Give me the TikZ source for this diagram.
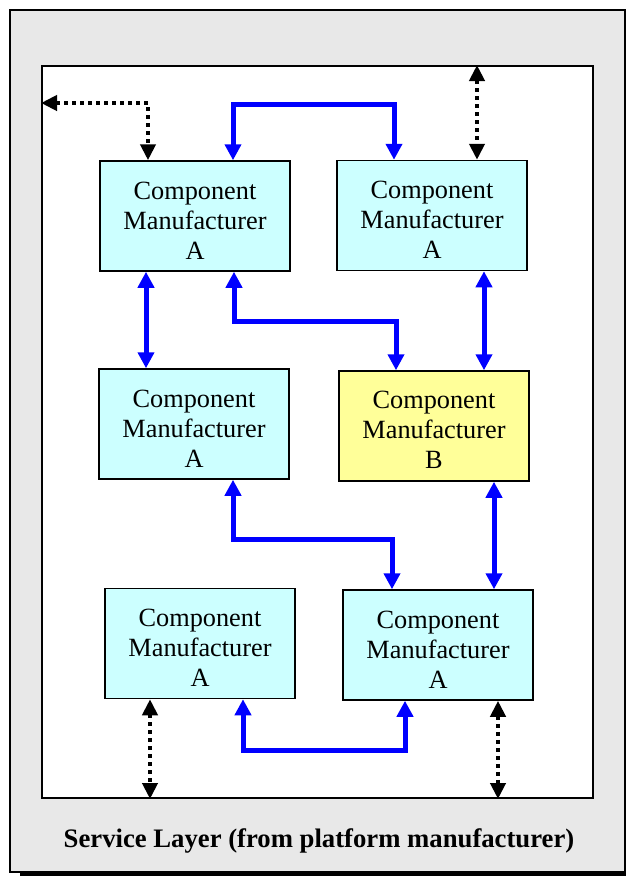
\documentclass[tikz,border=0pt]{standalone}
\usepackage{fontspec}
\setmainfont{Liberation Serif}
\usetikzlibrary{arrows.meta}

\definecolor{panelgrey}{HTML}{E8E8E8}
\definecolor{compcyan}{HTML}{CCFFFF}
\definecolor{compyellow}{HTML}{FFFF99}
\definecolor{linkblue}{HTML}{0000FF}

% extra head room on the first line, so the three lines sit a little low in the box
\newcommand{\firstlinepad}{\rule{0pt}{26pt}}

\tikzset{
  comp/.style={draw=black, line width=1.5pt, minimum width=190pt, minimum height=110pt,
    inner sep=0pt, align=center, font=\fontsize{26.3}{30}\selectfont},
  compA/.style={comp, fill=compcyan},
  compB/.style={comp, fill=compyellow},
  bluelink/.style={draw=linkblue, line width=5pt, line cap=butt, line join=miter,
    {Triangle[width=16pt,length=16pt]}-{Triangle[width=16pt,length=16pt]}},
  dotlink/.style={draw=black, line width=4pt, dash pattern=on 4pt off 4pt,
    {Triangle[width=15pt,length=16pt]}-{Triangle[width=15pt,length=16pt]}},
}

\begin{document}
\begin{tikzpicture}[x=1pt, y=-1pt]
  \useasboundingbox (0,0) rectangle (626,876);
  \clip (0,0) rectangle (626,876);

  % outer panel with drop shadow
  \fill[black] (20,18) rectangle (640,890);
  \draw[fill=panelgrey, line width=1.2pt] (10,10) rectangle (625,872);

  % platform area
  \node[draw=black, fill=white, line width=2pt, minimum width=551pt, minimum height=732pt,
        inner sep=0pt] (inner) at (317.5,432) {};

  % components
  \node[compA] (b1) at (195,216)   {\firstlinepad Component\\Manufacturer\\A};
  \node[compA] (b2) at (432,215.5) {\firstlinepad Component\\Manufacturer\\A};
  \node[compA] (b3) at (194,424)   {\firstlinepad Component\\Manufacturer\\A};
  \node[compB] (b4) at (434,426)   {\firstlinepad Component\\Manufacturer\\B};
  \node[compA] (b5) at (200,643.5) {\firstlinepad Component\\Manufacturer\\A};
  \node[compA] (b6) at (438,645)   {\firstlinepad Component\\Manufacturer\\A};

  % links between components
  \draw[bluelink] ([xshift=38pt]b1.north) -- ++(0,-56) -| ([xshift=-38pt]b2.north);
  \draw[bluelink] ([xshift=-49pt]b1.south) -- ([xshift=-49pt]b1.south |- b3.north);
  \draw[bluelink] ([xshift=39pt]b1.south) -- ++(0,50) -| ([xshift=-38pt]b4.north);
  \draw[bluelink] ([xshift=52pt]b2.south) -- ([xshift=52pt]b2.south |- b4.north);
  \draw[bluelink] ([xshift=39pt]b3.south) -- ++(0,60) -| ([xshift=-46pt]b6.north);
  \draw[bluelink] ([xshift=60pt]b4.south) -- ([xshift=60pt]b4.south |- b6.north);
  \draw[bluelink] ([xshift=43pt]b5.south) -- ++(0,51) -| ([xshift=-33pt]b6.south);

  % links to the platform
  \coordinate (d1) at (148,103);
  \draw[dotlink] (inner.west |- d1) -| ([xshift=-47pt]b1.north);
  \draw[dotlink] ([xshift=45pt]b2.north |- inner.north) -- ([xshift=45pt]b2.north);
  \draw[dotlink] ([xshift=-50pt]b5.south) -- ([xshift=-50pt]b5.south |- inner.south);
  \draw[dotlink] ([xshift=60pt]b6.south) -- ([xshift=60pt]b6.south |- inner.south);

  % caption
  \node[anchor=base, font=\fontsize{26.7}{30}\selectfont\bfseries, inner sep=0pt] (cap)
    at (319,847) {Service Layer (from platform manufacturer)};
\end{tikzpicture}
\end{document}
